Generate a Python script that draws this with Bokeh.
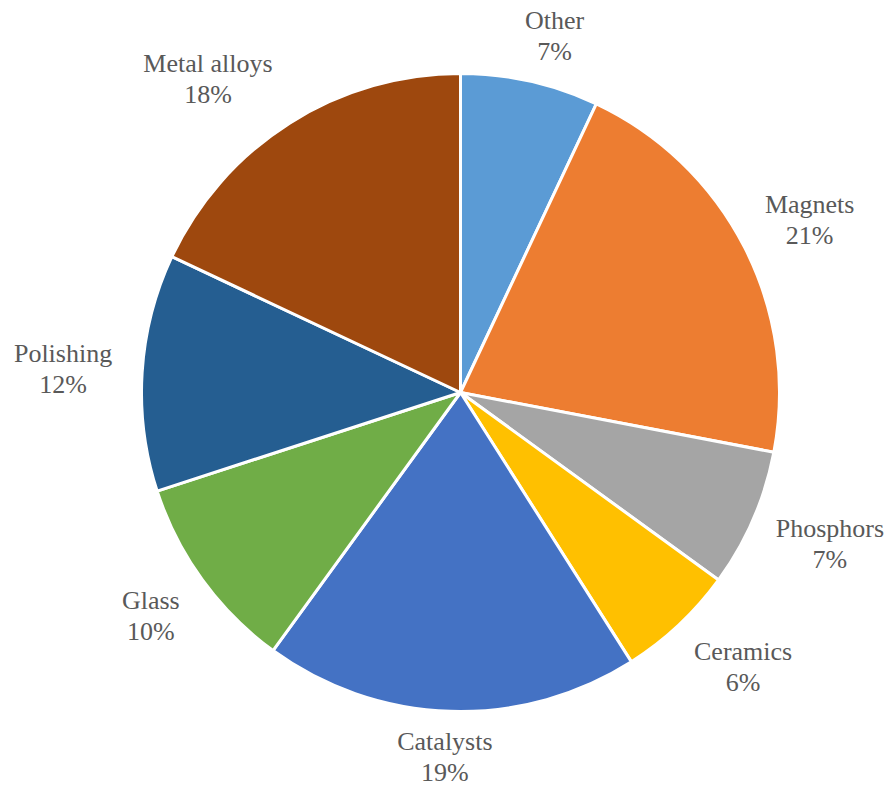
import math
from bokeh.plotting import figure
from bokeh.models import Range1d, ColumnDataSource
from bokeh.core.properties import value
from bokeh.embed import file_html
from bokeh.resources import INLINE

categories = ["Other", "Magnets", "Phosphors", "Ceramics", "Catalysts", "Glass", "Polishing", "Metal alloys"]
shares = [7, 21, 7, 6, 19, 10, 12, 18]
colors = ["#5B9BD5", "#ED7D31", "#A5A5A5", "#FFC000", "#4472C4", "#70AD47", "#255E91", "#9E480E"]

W, H = 893, 789
CX, CY = 460, 392  # pie centre in canvas px from top-left
R = 319
FONT_PX = 26
LINE = 31


def clamp(v):
    return max(-1.0, min(1.0, v))


total = float(sum(shares))
starts, ends, lx, ly, names, pcts = [], [], [], [], [], []
cum = 0.0
for cat, s in zip(categories, shares):
    a_start = math.radians(90 - (cum + s) / total * 360)
    a_end = math.radians(90 - cum / total * 360)
    starts.append(a_start)
    ends.append(a_end)
    mid = (a_start + a_end) / 2
    w = len(cat) * FONT_PX * 0.42
    h = LINE * 2
    px = (R + 30) * math.cos(mid) + w / 2 * clamp(3 * math.cos(mid))
    py = (R + 15) * math.sin(mid) + h / 2 * clamp(1.5 * math.sin(mid))
    lx.append(px)
    ly.append(py)
    names.append(cat)
    pcts.append(f"{round(s / total * 100)}%")
    cum += s

src = ColumnDataSource(dict(start=starts, end=ends, color=colors))
lsrc = ColumnDataSource(dict(x=lx, y1=[y + LINE / 2 for y in ly], y2=[y - LINE / 2 for y in ly],
                             n=names, pc=pcts))

p = figure(width=W, height=H, output_backend="svg", toolbar_location=None,
           x_range=Range1d(-CX, W - CX), y_range=Range1d(-(H - CY), CY),
           min_border=0)
p.axis.visible = False
p.grid.visible = False
p.outline_line_color = None
p.background_fill_color = "white"

p.wedge(x=0, y=0, radius=R, start_angle="start", end_angle="end",
        fill_color="color", line_color="white", line_width=3, source=src)

for col, ycol in (("n", "y1"), ("pc", "y2")):
    p.text(x="x", y=ycol, text=col, source=lsrc, text_align="center", text_baseline="middle",
           text_font=value("Liberation Serif"), text_font_size=f"{FONT_PX}px",
           text_color="#595959")

open("out.html", "w").write(file_html(p, INLINE))
